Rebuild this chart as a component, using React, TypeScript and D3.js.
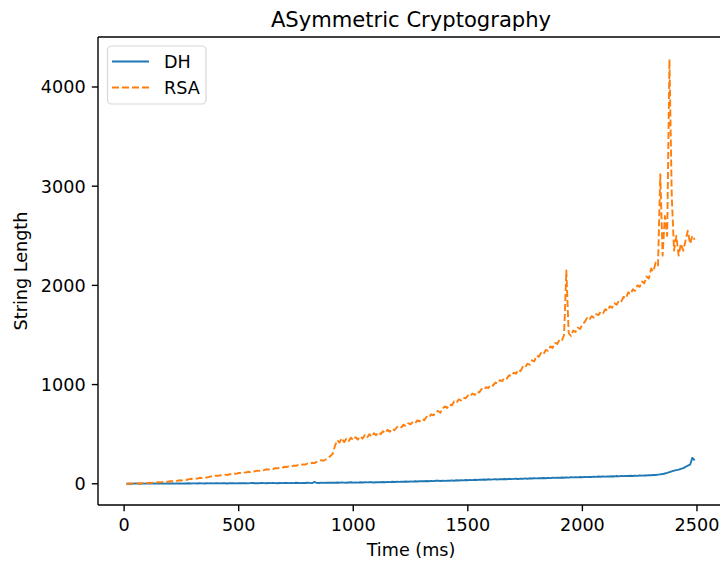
import React from "react";
import * as d3 from "d3";

const times = [
  10, 20, 30, 40, 50, 60, 70, 80, 90, 100,
  110, 120, 130, 140, 150, 160, 170, 180, 190, 200,
  210, 220, 230, 240, 250, 260, 270, 280, 290, 300,
  310, 320, 330, 340, 350, 360, 370, 380, 390, 400,
  410, 420, 430, 440, 450, 460, 470, 480, 490, 500,
  510, 520, 530, 540, 550, 560, 570, 580, 590, 600,
  610, 620, 630, 640, 650, 660, 670, 680, 690, 700,
  710, 720, 730, 740, 750, 760, 770, 780, 790, 800,
  810, 820, 830, 840, 850, 860, 870, 880, 890, 900,
  910, 920, 930, 940, 950, 960, 970, 980, 990, 1000,
  1010, 1020, 1030, 1040, 1050, 1060, 1070, 1080, 1090, 1100,
  1110, 1120, 1130, 1140, 1150, 1160, 1170, 1180, 1190, 1200,
  1210, 1220, 1230, 1240, 1250, 1260, 1270, 1280, 1290, 1300,
  1310, 1320, 1330, 1340, 1350, 1360, 1370, 1380, 1390, 1400,
  1410, 1420, 1430, 1440, 1450, 1460, 1470, 1480, 1490, 1500,
  1510, 1520, 1530, 1540, 1550, 1560, 1570, 1580, 1590, 1600,
  1610, 1620, 1630, 1640, 1650, 1660, 1670, 1680, 1690, 1700,
  1710, 1720, 1730, 1740, 1750, 1760, 1770, 1780, 1790, 1800,
  1810, 1820, 1830, 1840, 1850, 1860, 1870, 1880, 1890, 1900,
  1910, 1920, 1930, 1940, 1950, 1960, 1970, 1980, 1990, 2000,
  2010, 2020, 2030, 2040, 2050, 2060, 2070, 2080, 2090, 2100,
  2110, 2120, 2130, 2140, 2150, 2160, 2170, 2180, 2190, 2200,
  2210, 2220, 2230, 2240, 2250, 2260, 2270, 2280, 2290, 2300,
  2310, 2320, 2330, 2340, 2350, 2360, 2370, 2380, 2390, 2400,
  2410, 2420, 2430, 2440, 2450, 2460, 2470, 2480, 2490,
];

const rsaValues = [
  0, 1, 3, 2, 4, 5, 3, 6, 8, 7,
  10, 9, 13, 12, 16, 14, 19, 22, 20, 27,
  26, 31, 29, 35, 33, 40, 38, 45, 50, 48,
  55, 52, 60, 58, 66, 62, 70, 75, 72, 82,
  80, 86, 84, 92, 88, 97, 95, 104, 100, 110,
  108, 116, 112, 121, 118, 126, 124, 133, 130, 140,
  137, 146, 143, 152, 149, 158, 155, 164, 161, 172,
  168, 178, 175, 184, 180, 190, 187, 196, 193, 204,
  200, 212, 208, 220, 226, 238, 232, 245, 258, 280,
  300, 380, 440, 415, 460, 420, 455, 430, 465, 440,
  470, 445, 478, 455, 490, 462, 500, 475, 510, 490,
  520, 500, 530, 512, 545, 525, 555, 540, 570, 585,
  570, 595, 580, 610, 598, 625, 612, 640, 630, 655,
  640, 675, 665, 700, 690, 720, 735, 715, 760, 780,
  765, 800, 790, 830, 815, 850, 840, 870, 860, 890,
  880, 910, 895, 930, 920, 955, 945, 975, 965, 1000,
  990, 1020, 1010, 1045, 1035, 1070, 1060, 1095, 1085, 1120,
  1110, 1150, 1135, 1180, 1170, 1210, 1200, 1245, 1235, 1290,
  1280, 1320, 1305, 1350, 1340, 1385, 1370, 1420, 1410, 1450,
  1440, 1500, 2150, 1520, 1490, 1545, 1530, 1575, 1560, 1610,
  1630, 1670, 1650, 1690, 1675, 1710, 1700, 1735, 1720, 1760,
  1745, 1790, 1775, 1820, 1805, 1850, 1840, 1885, 1870, 1930,
  1910, 1960, 1945, 2000, 1985, 2040, 2020, 2090, 2070, 2170,
  2140, 2230, 2200, 3120, 2300, 2700, 2500, 4280, 2900, 2350,
  2500, 2300, 2420, 2350, 2450, 2550, 2420, 2500, 2460,
];

const dhValues = [
  0, 1, 0, 1, 2, 1, 0, 2, 1, 2,
  1, 2, 3, 1, 2, 3, 2, 1, 3, 2,
  3, 2, 4, 3, 2, 4, 3, 5, 3, 4,
  4, 3, 5, 4, 3, 5, 4, 6, 4, 5,
  5, 4, 6, 5, 3, 6, 5, 7, 4, 6,
  6, 5, 7, 4, 6, 8, 5, 7, 6, 8,
  7, 5, 8, 6, 9, 7, 5, 8, 7, 9,
  8, 6, 9, 7, 10, 8, 6, 9, 8, 10,
  9, 7, 18, 9, 8, 11, 9, 12, 10, 11,
  12, 10, 13, 11, 14, 12, 10, 13, 15, 12,
  14, 12, 15, 13, 16, 14, 17, 15, 13, 16,
  17, 15, 18, 16, 19, 17, 20, 18, 21, 19,
  22, 20, 23, 21, 24, 22, 26, 23, 25, 27,
  26, 28, 25, 29, 27, 30, 32, 28, 31, 29,
  32, 30, 34, 31, 35, 33, 36, 34, 38, 36,
  39, 37, 41, 38, 42, 40, 43, 41, 45, 42,
  44, 46, 43, 47, 45, 48, 46, 50, 47, 49,
  51, 48, 52, 50, 54, 51, 55, 53, 56, 54,
  57, 55, 58, 56, 60, 57, 61, 59, 62, 60,
  63, 61, 65, 62, 66, 64, 67, 65, 68, 66,
  69, 67, 70, 68, 72, 69, 73, 71, 74, 72,
  75, 73, 76, 74, 78, 75, 79, 77, 80, 78,
  81, 79, 82, 80, 84, 82, 85, 83, 87, 86,
  89, 88, 92, 95, 98, 104, 110, 118, 125, 132,
  138, 142, 150, 158, 170, 182, 192, 262, 236,
];

const xTicks = [0, 500, 1000, 1500, 2000, 2500];
const yTicks = [0, 1000, 2000, 3000, 4000];
const seriesNames = ["DH", "RSA"];
const colors = ["#1f77b4", "#ff7f0e"];

const W = 720;
const H = 563;
const left = 98;
const right = 724;
const top = 37;
const bottom = 505;
const font = "'DejaVu Sans', sans-serif";
const tickFont = 17.6;
const titleFont = 21.1;
const lw = 1.9;
const dash = "7,3";

export default function App() {
  const x = d3.scaleLinear().domain([-114, 2618]).range([left, right]);
  const y = d3.scaleLinear().domain([-214, 4504]).range([bottom, top]);
  const line = d3
    .line<number>()
    .x((_, i) => x(times[i]))
    .y((d) => y(d));

  return (
    <svg
      width={W}
      height={H}
      style={{ position: "absolute", left: 0, top: 0, background: "#fff" }}
      fontFamily={font}
    >
      <defs>
        <clipPath id="plotclip">
          <rect x={left} y={top} width={right - left} height={bottom - top} />
        </clipPath>
      </defs>
      <rect x={0} y={0} width={W} height={H} fill="#fff" />
      <g clipPath="url(#plotclip)">
        <path
          d={line(dhValues) || ""}
          fill="none"
          stroke={colors[0]}
          strokeWidth={lw}
          strokeLinejoin="round"
        />
        <path
          d={line(rsaValues) || ""}
          fill="none"
          stroke={colors[1]}
          strokeWidth={lw}
          strokeDasharray={dash}
          strokeLinejoin="round"
        />
      </g>
      {/* spines */}
      <g stroke="#000" strokeWidth={1.4} fill="none">
        <line x1={left} y1={top} x2={left} y2={bottom} />
        <line x1={left} y1={bottom} x2={right} y2={bottom} />
        <line x1={left} y1={top} x2={right} y2={top} />
        <line x1={right} y1={top} x2={right} y2={bottom} />
      </g>
      {/* x ticks */}
      {xTicks.map((t) => (
        <g key={"x" + t}>
          <line x1={x(t)} x2={x(t)} y1={bottom} y2={bottom + 6.2} stroke="#000" strokeWidth={1.4} />
          <text x={x(t)} y={531} textAnchor="middle" fontSize={tickFont} fill="#000">
            {t}
          </text>
        </g>
      ))}
      {/* y ticks */}
      {yTicks.map((t) => (
        <g key={"y" + t}>
          <line x1={left - 6.2} x2={left} y1={y(t)} y2={y(t)} stroke="#000" strokeWidth={1.4} />
          <text x={left - 12.4} y={y(t)} dy="0.36em" textAnchor="end" fontSize={tickFont} fill="#000">
            {t}
          </text>
        </g>
      ))}
      <text x={(left + right) / 2} y={26.5} textAnchor="middle" fontSize={titleFont} fill="#000">
        ASymmetric Cryptography
      </text>
      <text x={(left + right) / 2} y={556} textAnchor="middle" fontSize={tickFont} fill="#000">
        Time (ms)
      </text>
      <text
        transform={`translate(26.7,${(top + bottom) / 2}) rotate(-90)`}
        textAnchor="middle"
        fontSize={tickFont}
        fill="#000"
      >
        String Length
      </text>
      {/* legend */}
      <g>
        <rect
          x={107.5}
          y={46}
          width={98.5}
          height={58}
          rx={4}
          fill="#fff"
          fillOpacity={0.8}
          stroke="#d8d8d8"
          strokeWidth={1.2}
        />
        {seriesNames.map((name, i) => (
          <g key={name}>
            <line
              x1={112}
              x2={149}
              y1={61.5 + i * 26}
              y2={61.5 + i * 26}
              stroke={colors[i]}
              strokeWidth={lw}
              strokeDasharray={i === 1 ? dash : undefined}
            />
            <text x={164} y={61.5 + i * 26} dy="0.36em" fontSize={tickFont} fill="#000">
              {name}
            </text>
          </g>
        ))}
      </g>
    </svg>
  );
}
